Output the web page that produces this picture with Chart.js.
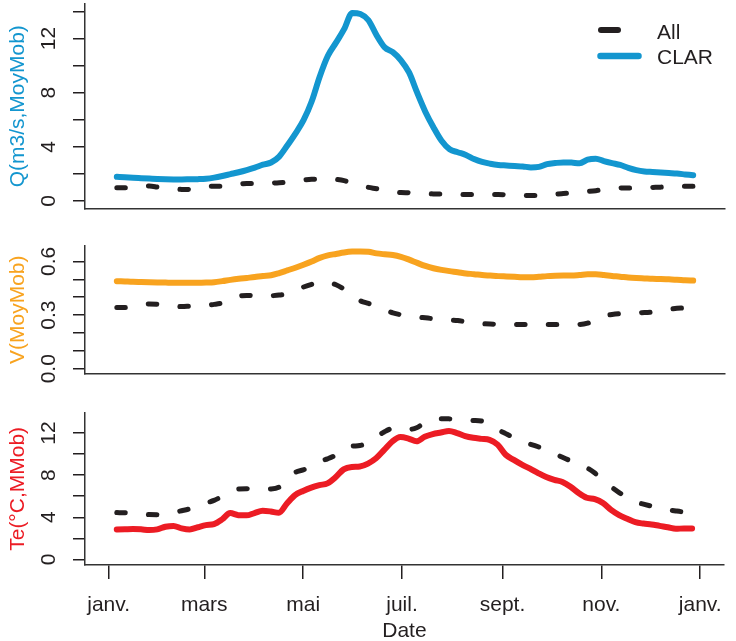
<!DOCTYPE html>
<html>
<head>
<meta charset="utf-8">
<script src="https://cdn.jsdelivr.net/npm/chart.js@4/dist/chart.umd.min.js"></script>
<style>
  body { margin: 0; background: #fff; }
  #wrap { position: relative; width: 736px; height: 641px; overflow: hidden; }
  canvas { position: absolute; left: 0; }
</style>
</head>
<body>
<div id="wrap">
  <canvas id="cQ" width="736" height="235" style="top:0px"></canvas>
  <canvas id="cV" width="736" height="165" style="top:235px"></canvas>
  <canvas id="cT" width="736" height="241" style="top:400px"></canvas>
</div>
<script>
// ---- data (day of year, moving averages) ----
const days = [5,10,15,20,25,30,35,40,45,50,55,60,65,70,75,80,85,90,95,100,
  105,110,115,120,125,130,135,140,145,150,155,160,165,170,175,180,185,190,195,200,
  205,210,215,220,225,230,235,240,245,250,255,260,265,270,275,280,285,290,295,300,
  305,310,315,320,325,330,335,340,345,350,355,360];

const qClar = [1.78,1.75,1.71,1.68,1.65,1.62,1.60,1.59,1.59,1.60,1.61,1.64,1.72,1.84,1.98,2.12,2.28,2.46,2.68,2.84,
  3.28,4.10,4.98,5.97,7.35,9.20,10.73,11.70,12.70,13.90,13.82,13.36,12.25,11.35,11.00,10.40,9.50,8.00,6.60,5.45,
  4.45,3.82,3.60,3.40,3.10,2.88,2.75,2.66,2.62,2.58,2.55,2.48,2.52,2.72,2.80,2.85,2.84,2.78,3.05,3.12,
  2.95,2.80,2.66,2.45,2.28,2.18,2.14,2.10,2.06,2.02,1.96,1.90];
const qAll = [0.97,0.97,0.98,1.05,1.10,1.02,0.92,0.88,0.85,0.84,0.90,1.05,1.08,1.08,1.10,1.22,1.28,1.28,1.30,1.32,
  1.35,1.40,1.48,1.55,1.60,1.62,1.65,1.60,1.50,1.30,1.15,1.00,0.90,0.78,0.68,0.62,0.60,0.57,0.55,0.52,
  0.52,0.50,0.48,0.47,0.47,0.47,0.47,0.47,0.46,0.45,0.42,0.40,0.40,0.45,0.50,0.55,0.60,0.65,0.70,0.76,
  0.85,0.92,0.95,0.96,0.97,0.98,1.00,1.02,1.05,1.08,1.08,1.09];

const vClar = [0.490,0.488,0.486,0.485,0.484,0.483,0.482,0.481,0.481,0.481,0.481,0.482,0.484,0.490,0.497,0.503,0.508,0.513,0.519,0.523,
  0.535,0.550,0.565,0.582,0.600,0.620,0.634,0.642,0.650,0.655,0.656,0.654,0.645,0.640,0.636,0.626,0.610,0.592,0.575,0.562,
  0.553,0.546,0.540,0.533,0.529,0.524,0.521,0.518,0.516,0.514,0.512,0.511,0.514,0.518,0.520,0.521,0.521,0.524,0.528,0.528,
  0.524,0.519,0.515,0.510,0.507,0.505,0.503,0.502,0.500,0.498,0.495,0.493];
const vAll = [0.343,0.343,0.348,0.355,0.362,0.360,0.355,0.350,0.348,0.350,0.352,0.355,0.360,0.368,0.385,0.405,0.410,0.408,0.405,0.408,
  0.412,0.420,0.440,0.457,0.472,0.485,0.482,0.470,0.445,0.410,0.380,0.365,0.350,0.330,0.313,0.302,0.296,0.290,0.285,0.280,
  0.276,0.273,0.270,0.262,0.256,0.252,0.250,0.249,0.249,0.248,0.248,0.248,0.247,0.247,0.247,0.248,0.248,0.248,0.255,0.275,
  0.295,0.303,0.308,0.310,0.312,0.314,0.318,0.325,0.332,0.338,0.340,0.345];

const tClar = [2.84,2.86,2.88,2.86,2.78,2.85,3.10,3.18,2.95,2.84,3.05,3.25,3.35,3.80,4.40,4.20,4.18,4.40,4.62,4.55,
  4.42,5.30,6.10,6.50,6.82,7.05,7.22,7.80,8.55,8.78,8.82,9.10,9.60,10.40,11.20,11.62,11.48,11.22,11.65,11.90,
  12.05,12.20,12.00,11.72,11.55,11.45,11.35,10.90,9.94,9.45,9.00,8.62,8.20,7.82,7.55,7.35,6.90,6.30,5.85,5.72,
  5.35,4.70,4.20,3.85,3.53,3.40,3.32,3.18,3.05,2.90,2.94,2.93];
const tAll = [4.45,4.42,4.38,4.30,4.26,4.25,4.30,4.45,4.62,4.80,5.05,5.35,5.60,6.00,6.45,6.68,6.70,6.68,6.66,6.68,
  6.85,7.50,8.25,8.50,8.85,9.30,9.55,9.90,10.50,10.75,10.82,11.10,11.60,12.10,12.45,12.50,12.35,12.50,13.00,13.30,
  13.35,13.35,13.30,13.22,13.20,13.15,12.90,12.35,11.95,11.55,11.15,10.95,10.70,10.35,10.05,9.70,9.35,8.95,8.70,8.20,
  7.50,6.90,6.35,5.90,5.45,5.25,5.05,4.85,4.72,4.60,4.50,4.45];

const monthDays = [0, 59, 120, 181, 243, 304, 365];
const monthLabels = ['janv.', 'mars', 'mai', 'juil.', 'sept.', 'nov.', 'janv.'];

const qTicks = [0, 2, 4, 6, 8, 10, 12, 14];
const qTickLabels = [0, 4, 8, 12];
const vTicks = [0, 0.1, 0.2, 0.3, 0.4, 0.5, 0.6];
const vTickLabels = [0, 0.3, 0.6];
const tTicks = [0, 2, 4, 6, 8, 10, 12];
const tTickLabels = [0, 4, 8, 12];

// ---- look ----
const FONT = "'Liberation Sans', Arial, Helvetica, sans-serif";
const INK = '#231f20';
const AXIS = '#333333';
const BLUE = '#1396cf';
const ORANGE = '#f8a31f';
const RED = '#ec1c24';

const pts = vals => vals.map((v, i) => ({ x: days[i], y: v }));

// y tick labels, rotated like base R (las = 0)
const yLabels = {
  id: 'yLabels',
  afterDraw(chart, args, o) {
    const ys = chart.scales.y, ctx = chart.ctx;
    ctx.save();
    ctx.font = '21px ' + FONT;
    ctx.fillStyle = INK;
    ctx.textAlign = 'center';
    ctx.textBaseline = 'alphabetic';
    o.values.forEach(v => {
      ctx.save();
      ctx.translate(55, ys.getPixelForValue(v));
      ctx.rotate(-Math.PI / 2);
      ctx.fillText(v.toFixed(o.digits), 0, 0);
      ctx.restore();
    });
    ctx.restore();
  }
};

// legend drawn inside the top panel
const topLegend = {
  id: 'topLegend',
  afterDraw(chart) {
    const ctx = chart.ctx;
    ctx.save();
    ctx.lineCap = 'round';
    ctx.strokeStyle = INK;
    ctx.lineWidth = 6;
    ctx.setLineDash([17, 40]);
    ctx.beginPath(); ctx.moveTo(601, 30); ctx.lineTo(639, 30); ctx.stroke();
    ctx.setLineDash([]);
    ctx.strokeStyle = BLUE;
    ctx.lineWidth = 6.5;
    ctx.beginPath(); ctx.moveTo(600.5, 56); ctx.lineTo(638.5, 56); ctx.stroke();
    ctx.font = '21px ' + FONT;
    ctx.fillStyle = INK;
    ctx.textAlign = 'left';
    ctx.textBaseline = 'alphabetic';
    ctx.fillText('All', 657, 38.5);
    ctx.fillText('CLAR', 657, 63.5);
    ctx.restore();
  }
};

function dashed(vals) {
  return {
    data: pts(vals), borderColor: INK, borderWidth: 5, borderDash: [8.5, 23.2],
    borderCapStyle: 'round', borderJoinStyle: 'round', pointRadius: 0,
    cubicInterpolationMode: 'monotone'
  };
}
function solid(vals, color) {
  return {
    data: pts(vals), borderColor: color, borderWidth: 6,
    borderCapStyle: 'round', borderJoinStyle: 'round', pointRadius: 0,
    cubicInterpolationMode: 'monotone'
  };
}

function panel(id, p) {
  const bottom = !!p.bottom;
  return new Chart(document.getElementById(id), {
    type: 'line',
    data: { datasets: p.datasets },
    plugins: p.extra ? [yLabels, p.extra] : [yLabels],
    options: {
      responsive: false,
      animation: false,
      layout: { padding: { top: p.padTop, right: 11, left: 0, bottom: 0 } },
      plugins: {
        legend: { display: false },
        tooltip: { enabled: false },
        yLabels: { values: p.labels, digits: p.digits }
      },
      scales: {
        x: {
          type: 'linear', min: -14.6, max: 379.6,
          afterBuildTicks: s => { s.ticks = monthDays.map(v => ({ value: v })); },
          afterFit: s => { s.height = p.xHeight; },
          ticks: {
            display: bottom, autoSkip: false, maxRotation: 0, minRotation: 0, padding: 14,
            color: INK, font: { family: FONT, size: 21 },
            callback: (v, i) => monthLabels[i]
          },
          grid: { display: bottom, drawOnChartArea: false, tickLength: 14, color: INK, lineWidth: 1.5 },
          border: { display: true, color: AXIS, width: 1.5 },
          title: {
            display: bottom, text: 'Date', color: INK,
            font: { family: FONT, size: 21, lineHeight: 0.9 }, padding: { top: 0, bottom: 0 }
          }
        },
        y: {
          min: p.min, max: p.max,
          afterBuildTicks: s => { s.ticks = p.ticks.map(v => ({ value: v })); },
          afterFit: s => { s.width = 85; },
          ticks: { display: false },
          grid: { drawOnChartArea: false, tickLength: 12, color: INK, lineWidth: 1.5 },
          border: { display: true, color: AXIS, width: 1.5 },
          title: {
            display: true, text: p.title, color: p.titleColor,
            font: { family: FONT, size: 21, lineHeight: 1.2 }, padding: { top: 6, bottom: 0 }
          }
        }
      }
    }
  });
}

panel('cQ', {
  datasets: [dashed(qAll), solid(qClar, BLUE)],
  min: -0.56, max: 14.56, ticks: qTicks, labels: qTickLabels, digits: 0,
  title: 'Q(m3/s,MoyMob)', titleColor: BLUE,
  padTop: 4, xHeight: 26.5, extra: topLegend
});

panel('cV', {
  datasets: [dashed(vAll), solid(vClar, ORANGE)],
  min: -0.0264, max: 0.6864, ticks: vTicks, labels: vTickLabels, digits: 1,
  title: 'V(MoyMob)', titleColor: ORANGE,
  padTop: 11, xHeight: 26.5
});

panel('cT', {
  datasets: [dashed(tAll), solid(tClar, RED)],
  min: -0.536, max: 13.936, ticks: tTicks, labels: tTickLabels, digits: 0,
  title: 'Te(°C,MMob)', titleColor: RED,
  padTop: 12.7, xHeight: 76, bottom: true
});
</script>
</body>
</html>
